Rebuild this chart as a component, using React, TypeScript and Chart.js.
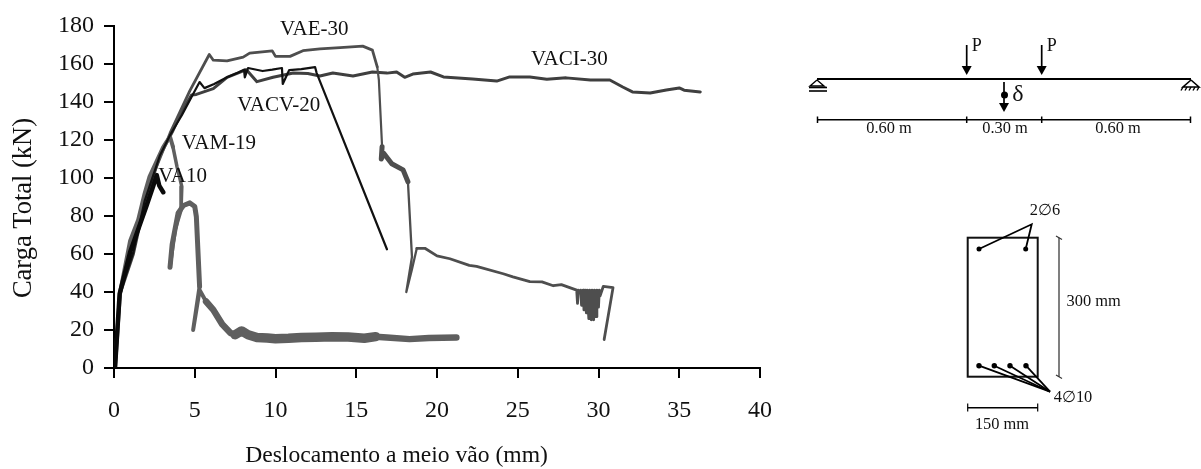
import React, { useEffect, useRef } from "react";
import { Chart, registerables } from "chart.js";

Chart.register(...registerables);

const FONT = '"Liberation Serif", "Times New Roman", serif';

const xTicks = [0, 5, 10, 15, 20, 25, 30, 35, 40];
const yTicks = [0, 20, 40, 60, 80, 100, 120, 140, 160, 180];

const va10X = [0.06, 0.35, 1.0, 1.5, 2.0, 2.4, 2.65, 2.8, 3.05];
const va10Y = [0, 39, 61, 73, 85, 95, 101.5, 96, 92.5];

const vacv20X = [0.06, 0.37, 1.2, 1.9, 2.85, 3.5, 4.2, 4.8, 5.3, 5.6, 6.2, 7.0, 7.7, 8.05, 8.1, 8.3, 9.2, 9.8, 10.4, 10.45, 10.85, 11.6, 12.45, 12.55, 16.9];
const vacv20Y = [0, 39.5, 61, 88, 112, 123, 133, 142.6, 150.5, 147.3, 149.5, 153, 155.5, 157, 153, 157.9, 156.3, 157, 157.9, 149.5, 156.8, 157.3, 158.4, 155.2, 62.5];

const vam19X = [0.06, 0.37, 1.0, 1.5, 1.9, 2.2, 3.03, 3.25, 3.47, 3.65, 3.9, 4.2, 4.15, 3.8, 3.47, 3.6, 3.97, 4.3, 4.7, 5.0, 5.1, 5.3, 4.9, 5.3, 5.7, 6.15, 6.7, 7.2, 7.5, 7.9, 8.3, 8.85, 9.5, 10.0, 10.8, 11.6, 12.5, 13.5, 14.5, 15.5, 16.2, 16.9, 18.3, 19.5, 21.2];
const vam19Y = [0, 39.5, 67, 78, 92, 100.7, 116, 119, 121.7, 116.4, 106, 95.5, 83, 73, 53, 65, 81.6, 85.5, 86.9, 85, 79.6, 43, 20, 41, 35, 30.6, 23, 18.5, 17.5, 19.5, 17.5, 16, 15.8, 15.4, 15.6, 16, 16.2, 16.5, 16.3, 15.7, 16.5, 16, 15.2, 15.8, 16];

const vae30X = [0.06, 0.37, 1.0, 2.3, 3.47, 4.7, 5.9, 6.15, 7.0, 8.0, 8.4, 9.8, 10.0, 10.9, 11.7, 12.75, 14.0, 15.4, 16.0, 16.3, 16.4, 16.6, 16.55, 16.7, 17.2, 17.9, 18.2, 18.45, 18.1, 18.45, 18.75, 19.25, 20.0, 20.8, 22.0, 22.45, 24.1, 24.7, 25.75, 26.5, 27.2, 27.7, 28.65, 28.7, 28.75, 28.85, 28.9, 28.95, 29.05, 29.1, 29.2, 29.25, 29.3, 29.4, 29.45, 29.55, 29.6, 29.7, 29.75, 29.85, 29.9, 30.0, 30.05, 30.1, 30.3, 30.9, 30.35];
const vae30Y = [0, 39.5, 64, 99, 123.6, 146, 165, 162, 161.6, 163.6, 165.7, 166.9, 164, 164, 167, 168, 168.6, 169.4, 167.3, 158.5, 151.6, 116.5, 110, 113, 107.5, 104.3, 98, 58.5, 40, 52, 63, 63, 59, 57.5, 54, 53.5, 49.6, 48, 45.5, 45.3, 43.3, 43.9, 41, 34, 41, 39.6, 41, 33, 41, 30.6, 41, 29, 41, 26, 41, 25.4, 41, 25.4, 41, 27, 41, 32, 41, 38, 43, 42.3, 15];

const vaci30X = [0.06, 0.37, 1.2, 1.9, 2.85, 3.6, 4.2, 4.8, 5.1, 6.15, 7.0, 8.2, 8.85, 9.85, 11.1, 12.0, 12.75, 13.55, 14.8, 16.0, 16.9, 17.5, 18.0, 18.5, 19.6, 20.4, 22.2, 23.7, 24.5, 25.75, 26.8, 28.0, 29.5, 30.7, 31.5, 32.1, 33.2, 34.2, 35.0, 35.3, 36.3];
const vaci30Y = [0, 39, 60, 87, 112, 124, 135, 143.7, 144, 147, 153, 157, 150.7, 153, 155.3, 155, 153.7, 155.3, 153.7, 155.8, 155.2, 155.8, 153, 154.7, 155.8, 153.2, 152.1, 151, 153.2, 153.2, 152, 152.7, 151.6, 151.6, 147.9, 145.3, 144.7, 146.3, 147.4, 146.2, 145.3];

const seriesNames = ["VA10", "VACV-20", "VAM-19", "VAE-30", "VACI-30"];
const labelX = [4.25, 10.2, 6.5, 12.4, 28.2];
const labelY = [101, 138, 118, 178, 162.6];

const zip = (xs: number[], ys: number[]) => xs.map((x, i) => ({ x, y: ys[i] }));

const vamWidth = (ctx: any) => {
  const i = ctx.p0DataIndex;
  if (i < 9) return 4;
  if (i < 14) return 3.5;
  if (i < 21) return 5;
  if (i < 24) return 4;
  if (i < 28) return 6.5;
  return ctx.p0.parsed.x < 16 ? 9.5 : 6.5;
};
const vaeWidth = (ctx: any) => {
  const i = ctx.p0DataIndex;
  if (i >= 19 && i < 21) return 2.2;
  if (i >= 21 && i < 26) return 5;
  if (i >= 26 && i < 30) return 2.3;
  return 2.8;
};

const arrow = (c: CanvasRenderingContext2D, x: number, y: number, w: number, h: number) => {
  c.beginPath();
  c.moveTo(x - w, y - h);
  c.lineTo(x + w, y - h);
  c.lineTo(x, y);
  c.closePath();
  c.fill();
};
const seg = (c: CanvasRenderingContext2D, pts: number[], width = 1.8, color = "#000") => {
  c.strokeStyle = color;
  c.lineWidth = width;
  c.beginPath();
  c.moveTo(pts[0], pts[1]);
  for (let i = 2; i < pts.length; i += 2) c.lineTo(pts[i], pts[i + 1]);
  c.stroke();
};
const dot = (c: CanvasRenderingContext2D, x: number, y: number, r: number) => {
  c.beginPath();
  c.arc(x, y, r, 0, Math.PI * 2);
  c.fill();
};
const txt = (c: CanvasRenderingContext2D, s: string, x: number, y: number, size: number, align: CanvasTextAlign = "center") => {
  c.fillStyle = "#111";
  c.font = `${size}px ${FONT}`;
  c.textAlign = align;
  c.textBaseline = "middle";
  c.fillText(s, x, y);
};

const annotations = {
  id: "annotations",
  afterDatasetsDraw(chart: any) {
    const c: CanvasRenderingContext2D = chart.ctx;
    const { x, y } = chart.scales;
    c.save();
    seriesNames.forEach((n, i) => txt(c, n, x.getPixelForValue(labelX[i]), y.getPixelForValue(labelY[i]), 21));

    // axis titles
    txt(c, "Deslocamento a meio vão (mm)", 396.5, 456, 23.6);
    c.save();
    c.translate(24, 208);
    c.rotate(-Math.PI / 2);
    txt(c, "Carga Total (kN)", 0, 0, 26.5);
    c.restore();

    // beam scheme
    c.fillStyle = "#000";
    seg(c, [817, 79, 1191, 79], 2);
    [966.7, 1041.7].forEach((px) => {
      seg(c, [px, 45, px, 70], 1.7);
      c.fillStyle = "#000";
      arrow(c, px, 75, 5, 9);
      txt(c, "P", px + 10, 46, 18);
    });
    seg(c, [1004, 82, 1004, 108], 1.7);
    c.fillStyle = "#000";
    dot(c, 1004.5, 95, 3.5);
    arrow(c, 1004, 112, 5, 9);
    txt(c, "δ", 1018, 95, 24);
    seg(c, [817, 80, 810, 86, 824, 86, 817, 80], 1.4);
    seg(c, [809, 87.5, 827, 87.5], 1.6);
    seg(c, [809, 91, 827, 91], 1.6);
    seg(c, [1191, 80, 1183, 87, 1199, 87, 1191, 80], 1.6);
    [1181, 1185, 1189, 1193, 1197].forEach((px) => seg(c, [px + 2, 87, px, 90.5], 1.4));
    seg(c, [817, 119.7, 1191, 119.7], 1.5);
    [817.5, 966.7, 1041.7, 1190.5].forEach((px) => seg(c, [px, 116.5, px, 123], 1.5));
    txt(c, "0.60 m", 889, 129, 16.4);
    txt(c, "0.30 m", 1005, 129, 16.4);
    txt(c, "0.60 m", 1118, 129, 16.4);

    // section scheme
    c.strokeStyle = "#111";
    c.lineWidth = 2;
    c.strokeRect(967.7, 237.7, 70, 139);
    c.fillStyle = "#000";
    [979, 1025.7].forEach((px) => dot(c, px, 249, 2.5));
    [979, 994.3, 1010, 1026].forEach((px) => {
      c.fillStyle = "#000";
      dot(c, px, 365.7, 2.7);
      seg(c, [px, 365.7, 1050, 391.7], 1.8);
    });
    seg(c, [979, 249, 1031.7, 224.3, 1025.7, 249], 1.8);
    seg(c, [1059, 237.7, 1059, 376.7], 1.5, "#555");
    seg(c, [1056, 236, 1062, 239.5], 1.2, "#333");
    seg(c, [1056, 375, 1062, 378.5], 1.2, "#333");
    seg(c, [967.7, 407.7, 1037.7, 407.7], 1.4);
    seg(c, [967.7, 403.5, 967.7, 411.5], 1.2);
    seg(c, [1037.7, 403.5, 1037.7, 411.5], 1.2);
    txt(c, "2∅6", 1045, 211, 16.4);
    txt(c, "4∅10", 1073, 398, 16.4);
    txt(c, "300 mm", 1066.5, 302, 16.4, "left");
    txt(c, "150 mm", 1002, 425, 16.4);
    c.restore();
  },
};

export default function App() {
  const ref = useRef<HTMLCanvasElement>(null);
  useEffect(() => {
    document.body.style.margin = "0";
    const chart = new Chart(ref.current as HTMLCanvasElement, {
      type: "scatter",
      data: {
        datasets: [
          { label: seriesNames[0], data: zip(va10X, va10Y), borderColor: "#0a0a0a", borderWidth: 4.5 },
          { label: seriesNames[1], data: zip(vacv20X, vacv20Y), borderColor: "#111111", borderWidth: 2.2 },
          { label: seriesNames[2], data: zip(vam19X, vam19Y), borderColor: "#5f5f5f", borderWidth: 4.5, segment: { borderWidth: vamWidth } },
          { label: seriesNames[3], data: zip(vae30X, vae30Y), borderColor: "#4e4e4e", borderWidth: 2.8, segment: { borderWidth: vaeWidth } },
          { label: seriesNames[4], data: zip(vaci30X, vaci30Y), borderColor: "#3f3f3f", borderWidth: 3 },
        ].map((d) => ({ ...d, showLine: true, pointRadius: 0, tension: 0, borderJoinStyle: "round" as const, borderCapStyle: "round" as const })),
      },
      options: {
        responsive: false,
        animation: false,
        layout: { padding: { left: 0, right: 441, top: 26, bottom: 0 } },
        plugins: { legend: { display: false }, tooltip: { enabled: false } },
        scales: {
          x: {
            type: "linear",
            min: 0,
            max: 40,
            afterBuildTicks: (s: any) => { s.ticks = xTicks.map((value) => ({ value })); },
            afterFit: (s: any) => { s.height = 101; },
            grid: { drawOnChartArea: false, color: "#000", lineWidth: 2, tickLength: 10 },
            border: { color: "#000", width: 2 },
            ticks: { color: "#111", font: { family: FONT, size: 24 }, padding: 18, maxRotation: 0, autoSkip: false },
            title: { display: false },
          },
          y: {
            type: "linear",
            min: 0,
            max: 180,
            afterBuildTicks: (s: any) => { s.ticks = yTicks.map((value) => ({ value })); },
            afterFit: (s: any) => { s.width = 114; },
            grid: { drawOnChartArea: false, color: "#000", lineWidth: 2, tickLength: 10 },
            border: { color: "#000", width: 2 },
            ticks: { color: "#111", font: { family: FONT, size: 24 }, padding: 10, autoSkip: false },
            title: { display: false },
          },
        },
      },
      plugins: [annotations],
    } as any);
    return () => chart.destroy();
  }, []);
  return <canvas ref={ref} width={1201} height={469} style={{ display: "block" }} />;
}
